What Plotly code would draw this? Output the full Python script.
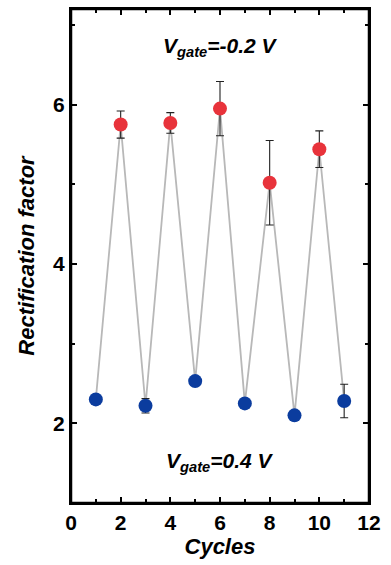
import plotly.graph_objects as go

# Data
cycles_neg = [2, 4, 6, 8, 10]                 # Vgate = -0.2 V
rf_neg = [5.75, 5.77, 5.95, 5.02, 5.44]
err_neg = [0.17, 0.13, 0.34, 0.53, 0.23]

cycles_pos = [1, 3, 5, 7, 9, 11]              # Vgate = 0.4 V
rf_pos = [2.30, 2.22, 2.53, 2.25, 2.10, 2.28]
err_pos = [0.03, 0.09, 0.03, 0.04, 0.05, 0.21]

x_ticks = [0, 2, 4, 6, 8, 10, 12]
x_minor = [1, 3, 5, 7, 9, 11]
y_ticks = [2, 4, 6]
y_minor = [1, 3, 5, 7]

# combined sequence for connecting line
pairs = sorted(list(zip(cycles_neg, rf_neg)) + list(zip(cycles_pos, rf_pos)))
all_x = [p[0] for p in pairs]
all_y = [p[1] for p in pairs]

FONT = "Liberation Sans, Arial, sans-serif"
RED = "#E8333B"
BLUE = "#0B3C9E"

fig = go.Figure()
fig.add_trace(go.Scatter(x=all_x, y=all_y, mode="lines",
                         line=dict(color="#b8b8b8", width=1.8),
                         showlegend=False, hoverinfo="skip"))
fig.add_trace(go.Scatter(x=cycles_neg, y=rf_neg, mode="markers",
                         marker=dict(color=RED, size=14, line=dict(width=0)),
                         error_y=dict(type="data", array=err_neg, visible=True,
                                      color="#222222", thickness=1.1, width=4),
                         showlegend=False))
fig.add_trace(go.Scatter(x=cycles_pos, y=rf_pos, mode="markers",
                         marker=dict(color=BLUE, size=14, line=dict(width=0)),
                         error_y=dict(type="data", array=err_pos, visible=True,
                                      color="#222222", thickness=1.1, width=4),
                         showlegend=False))

axis_common = dict(
    showline=True, linecolor="#000000", linewidth=2, mirror="ticks",
    ticks="inside", ticklen=6, tickwidth=2, tickcolor="#000000",
    showgrid=False, zeroline=False, automargin=False,
    tickfont=dict(family=FONT, size=21, color="black", weight="bold"),
)

fig.update_xaxes(range=[0, 12], tickmode="array", tickvals=x_ticks,
                 ticktext=[str(v) for v in x_ticks],
                 minor=dict(ticks="inside", ticklen=4, tickwidth=1.5,
                            tickcolor="black", tickmode="array",
                            tickvals=x_minor, showgrid=False),
                 title=dict(text="Cycles", standoff=2,
                            font=dict(family=FONT, size=22, color="black",
                                      weight="bold", style="italic")),
                 **axis_common)
fig.update_yaxes(range=[1, 7.2], tickmode="array", tickvals=y_ticks,
                 ticktext=[str(v) for v in y_ticks],
                 minor=dict(ticks="inside", ticklen=4, tickwidth=1.5,
                            tickcolor="black", tickmode="array",
                            tickvals=y_minor, showgrid=False),
                 title=dict(text="Rectification factor", standoff=12,
                            font=dict(family=FONT, size=22, color="black",
                                      weight="bold", style="italic")),
                 **axis_common)

# plot frame
fig.add_shape(type="rect", xref="paper", yref="paper", x0=0, x1=1, y0=0, y1=1,
              line=dict(color="black", width=2.5), layer="above")

ann_font = dict(family=FONT, size=21, color="black", weight="bold", style="italic")
fig.add_annotation(x=6, y=6.72, xref="x", yref="y", showarrow=False,
                   text="V<sub>gate</sub>=-0.2 V", font=ann_font)
fig.add_annotation(x=6, y=1.52, xref="x", yref="y", showarrow=False,
                   text="V<sub>gate</sub>=0.4 V", font=ann_font)

fig.update_layout(
    width=391, height=565,
    margin=dict(l=71, r=22, t=9, b=62),
    plot_bgcolor="white", paper_bgcolor="white",
    font=dict(family=FONT),
)

fig.write_html("out.html", config={"displayModeBar": False},
               post_script="document.body.style.margin='0';document.body.style.padding='0';")
